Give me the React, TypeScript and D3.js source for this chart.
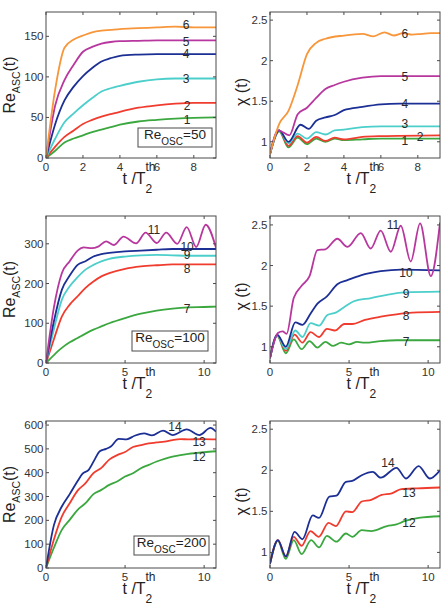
import React from 'react';
import * as d3 from 'd3';

type Pt = [number, number];

const FONT = 'Liberation Sans, Arial, Helvetica, sans-serif';
const GREEN = '#3aa83f';
const RED = '#f03c2e';
const CYAN = '#4ccfcb';
const NAVY = '#1c2f94';
const MAGENTA = '#b8379f';
const ORANGE = '#f7963a';

// ---------- Re_OSC = 50 ----------
const t50 = [0, 0.5, 1, 1.5, 2, 2.5, 3, 3.5, 4, 5, 6, 7, 8, 9.2];
const reAsc50_1 = [0, 9, 19, 24, 28, 32, 35, 38, 41, 45, 47, 48.5, 49.5, 50];
const reAsc50_2 = [0, 14, 26, 34, 42, 47, 51, 54, 57, 62, 65, 67, 68, 68];
const reAsc50_3 = [0, 24, 44, 55, 65, 74, 82, 86, 89, 94, 97, 98, 98, 98];
const reAsc50_4 = [0, 42, 71, 88, 101, 111, 119, 123, 126, 127.5, 128, 128, 128, 128];
const reAsc50_5 = [0, 65, 96, 115, 131, 137, 141, 143, 144, 144.5, 145, 145, 145, 145];
const reAsc50_6 = [0, 85, 136, 146, 151, 155, 157, 158, 159, 160, 161, 162, 161, 161];

const chi50_1: Pt[] = [[0, 0.85], [0.5, 1.13], [1, 0.93], [1.5, 1.05], [2, 0.97], [2.5, 1.04], [3, 1.0], [3.5, 1.04], [4, 1.02], [5, 1.03], [6, 1.04], [9.2, 1.04]];
const chi50_2: Pt[] = [[0, 0.85], [0.5, 1.14], [1, 0.95], [1.5, 1.07], [2, 0.99], [2.5, 1.06], [3, 1.01], [3.5, 1.05], [4, 1.03], [5, 1.06], [6, 1.07], [9.2, 1.08]];
const chi50_3: Pt[] = [[0, 0.85], [0.5, 1.14], [1, 0.98], [1.5, 1.1], [2, 1.04], [2.5, 1.12], [3, 1.09], [3.5, 1.14], [4, 1.15], [5, 1.18], [6, 1.19], [9.2, 1.19]];
const chi50_4: Pt[] = [[0, 0.85], [0.5, 1.14], [1, 1.0], [1.65, 1.21], [2.1, 1.16], [2.5, 1.26], [3, 1.3], [3.5, 1.33], [4, 1.39], [5, 1.43], [6, 1.46], [7, 1.47], [9.2, 1.47]];
const chi50_5: Pt[] = [[0, 0.85], [0.45, 1.14], [1.05, 1.08], [1.5, 1.34], [2, 1.42], [2.5, 1.54], [3, 1.65], [3.5, 1.7], [4, 1.74], [5, 1.79], [6, 1.81], [7, 1.81], [9.2, 1.81]];
const chi50_6: Pt[] = [[0, 0.85], [0.5, 1.22], [1, 1.38], [1.5, 1.7], [2, 2.08], [2.5, 2.22], [3, 2.27], [4, 2.31], [5, 2.33], [5.6, 2.3], [6.2, 2.35], [6.7, 2.31], [7.2, 2.34], [7.7, 2.32], [8.2, 2.33], [8.7, 2.34], [9.2, 2.34]];

// ---------- Re_OSC = 100 ----------
const t100 = [0, 0.5, 1, 1.5, 2, 2.5, 3, 3.5, 4, 5, 6, 7, 8, 9, 10, 10.75];
const reAsc100_7 = [0, 20, 38, 52, 63, 74, 84, 92, 100, 113, 124, 132, 137, 140, 141, 142];
const reAsc100_8 = [0, 60, 117, 147, 168, 189, 205, 218, 226, 237, 243, 246, 248, 248, 248, 248];
const reAsc100_9 = [0, 85, 159, 193, 216, 235, 247, 256, 262, 268, 271, 272, 271, 270, 270, 270];
const reAsc100_10 = [0, 105, 184, 220, 247, 256, 268, 274, 277, 281, 283, 285, 287, 287, 287, 287];
const reAsc100_11: Pt[] = [[0, 0], [0.5, 140], [1, 226], [1.5, 256], [2, 283], [2.4, 291], [2.9, 289], [3.3, 293], [3.8, 306], [4.3, 297], [4.9, 318], [5.7, 301], [6.3, 328], [7.0, 302], [7.6, 328], [8.3, 300], [8.9, 342], [9.5, 292], [10.1, 348], [10.75, 290]];

const chi100_7: Pt[] = [[0, 0.86], [0.46, 1.13], [1, 0.92], [1.5, 1.09], [2, 0.97], [2.5, 1.07], [3, 0.99], [3.5, 1.06], [4, 1.01], [4.5, 1.05], [5, 1.03], [5.5, 1.06], [6, 1.05], [7, 1.07], [8, 1.08], [10.75, 1.08]];
const chi100_8: Pt[] = [[0, 0.86], [0.46, 1.14], [1, 0.95], [1.55, 1.15], [2.05, 1.05], [2.57, 1.18], [3.1, 1.12], [3.6, 1.22], [4.1, 1.2], [4.7, 1.28], [5.2, 1.28], [6, 1.33], [7, 1.37], [8, 1.4], [9, 1.42], [10.75, 1.43]];
const chi100_9: Pt[] = [[0, 0.86], [0.46, 1.14], [1, 0.97], [1.6, 1.2], [2.05, 1.12], [2.57, 1.29], [3.1, 1.26], [3.63, 1.39], [4.16, 1.42], [4.7, 1.49], [5.3, 1.56], [6.4, 1.6], [7.4, 1.64], [8.5, 1.67], [10.75, 1.68]];
const chi100_10: Pt[] = [[0, 0.86], [0.46, 1.15], [1, 1.0], [1.6, 1.3], [2.05, 1.27], [2.57, 1.41], [3, 1.53], [3.6, 1.62], [4.26, 1.77], [4.9, 1.82], [5.74, 1.88], [7, 1.93], [8.27, 1.95], [10.75, 1.94]];
const chi100_11: Pt[] = [[0, 0.86], [0.5, 1.17], [0.8, 1.19], [1.05, 1.16], [1.5, 1.6], [2, 1.75], [2.5, 1.87], [3, 2.19], [3.5, 2.2], [4.26, 2.33], [4.9, 2.23], [5.74, 2.4], [6.37, 2.21], [7.0, 2.43], [7.64, 2.17], [8.27, 2.49], [8.9, 2.05], [9.49, 2.52], [10.17, 1.87], [10.75, 2.53]];

// ---------- Re_OSC = 200 ----------
const reAsc200_12: Pt[] = [[0, 0], [0.5, 85], [1, 160], [1.5, 202], [2, 244], [2.5, 272], [3, 310], [3.5, 328], [4, 349], [4.5, 363], [5, 384], [5.5, 398], [6, 419], [6.5, 433], [7, 447], [7.5, 458], [8, 467], [8.5, 474], [9, 479], [10, 486], [10.75, 490]];
const reAsc200_13: Pt[] = [[0, 0], [0.5, 120], [1, 216], [1.5, 272], [2, 325], [2.5, 356], [3, 398], [3.5, 420], [4, 455], [4.5, 474], [5, 487], [5.5, 508], [6, 516], [6.5, 523], [7, 527], [7.5, 530], [8, 537], [8.5, 541], [9, 540], [10, 541], [10.75, 540]];
const reAsc200_14: Pt[] = [[0, 0], [0.5, 180], [1, 258], [1.5, 310], [2, 365], [2.3, 395], [2.7, 412], [3.1, 458], [3.4, 490], [3.8, 500], [4.1, 510], [4.6, 542], [5.1, 540], [5.6, 555], [6.2, 565], [6.7, 557], [7.4, 577], [8.0, 558], [8.9, 582], [9.7, 558], [10.4, 588], [10.75, 572]];

const chi200_12: Pt[] = [[0, 0.86], [0.5, 1.14], [1, 0.92], [1.5, 1.15], [2, 0.98], [2.6, 1.15], [3.1, 1.06], [3.6, 1.2], [4.2, 1.13], [4.8, 1.23], [5.2, 1.19], [5.8, 1.27], [6.4, 1.26], [7.4, 1.32], [8, 1.34], [8.5, 1.38], [9.4, 1.42], [10.75, 1.44]];
const chi200_13: Pt[] = [[0, 0.86], [0.5, 1.15], [1, 0.95], [1.5, 1.19], [2, 1.08], [2.56, 1.26], [3.08, 1.19], [3.7, 1.36], [4.17, 1.32], [4.8, 1.5], [5.2, 1.49], [5.8, 1.62], [6.4, 1.64], [7.06, 1.7], [7.7, 1.72], [8.3, 1.77], [9.3, 1.78], [10.75, 1.79]];
const chi200_14: Pt[] = [[0, 0.86], [0.5, 1.15], [1, 0.95], [1.55, 1.25], [2.05, 1.16], [2.7, 1.45], [3.1, 1.42], [3.75, 1.68], [4.2, 1.69], [4.8, 1.86], [5.2, 1.87], [5.8, 1.94], [6.5, 1.98], [7.0, 1.91], [8.0, 2.03], [8.6, 1.9], [9.4, 2.05], [10.1, 1.9], [10.75, 2.0]];

const zip = (t: number[], v: number[]): Pt[] => t.map((d, i) => [d, v[i]]);

interface Series { name: string; color: string; pts: Pt[]; label: Pt }
interface PanelProps {
  id: string; left: number; top: number; right: number; bottom: number;
  xMax: number; yDomain: [number, number]; xTicks: number[]; yTicks: number[];
  kind: 're' | 'chi'; series: Series[];
  legend?: { text: string; box: [number, number, number, number] };
}

const Panel = ({ id, left, top, right, bottom, xMax, yDomain, xTicks, yTicks, kind, series, legend }: PanelProps) => {
  const x = d3.scaleLinear().domain([0, xMax]).range([left, right]);
  const y = d3.scaleLinear().domain(yDomain).range([bottom, top]);
  const line = d3.line<Pt>().x((d) => x(d[0])).y((d) => y(d[1])).curve(d3.curveMonotoneX);
  const cy = (top + bottom) / 2;
  const tk = 3;

  return (
    <g fontFamily={FONT}>
      <clipPath id={`clip-${id}`}>
        <rect x={left} y={top} width={right - left} height={bottom - top}/>
      </clipPath>
      <g clipPath={`url(#clip-${id})`}>
        {series.map((s) => (
          <path key={s.name} d={line(s.pts) || ''} fill="none" stroke={s.color} strokeWidth={1.8}
            strokeLinejoin="round"/>
        ))}
      </g>
      {series.map((s) => (
        <text key={`l${s.name}`} x={x(s.label[0])} y={y(s.label[1]) + 4.5} textAnchor="middle"
          fontSize={12} fill="#2a2a2a">{s.name}</text>
      ))}
      <rect x={left} y={top} width={right - left} height={bottom - top} fill="none" stroke="#4a4a4a" strokeWidth={1}/>
      {xTicks.map((t) => (
        <g key={`x${t}`}>
          <line x1={x(t)} x2={x(t)} y1={bottom} y2={bottom - tk} stroke="#4a4a4a"/>
          <line x1={x(t)} x2={x(t)} y1={top} y2={top + tk} stroke="#4a4a4a"/>
          <text x={x(t)} y={bottom + 13} textAnchor="middle" fontSize={11.5} fill="#333">{t}</text>
        </g>
      ))}
      {yTicks.map((v) => (
        <g key={`y${v}`}>
          <line x1={left} x2={left + tk} y1={y(v)} y2={y(v)} stroke="#4a4a4a"/>
          <line x1={right} x2={right - tk} y1={y(v)} y2={y(v)} stroke="#4a4a4a"/>
          <text x={left - 2.5} y={y(v) + 4} textAnchor="end" fontSize={11.5} fill="#333">{v}</text>
        </g>
      ))}
      {kind === 're' ? (
        <text transform={`translate(${left - 31},${cy}) rotate(-90)`} textAnchor="middle" fontSize={16} fill="#222">
          Re<tspan fontSize={10.5} dy={5}>ASC</tspan><tspan fontSize={16} dy={-5}>(t)</tspan>
        </text>
      ) : (
        <text transform={`translate(${left - 23},${cy + 7}) rotate(-90)`} textAnchor="middle" fontSize={16} fill="#222">
          χ (t)
        </text>
      )}
      <text x={left + 76.5} y={bottom + 26} fontSize={16} fill="#222">t /T</text>
      <text x={left + 99.5} y={bottom + 35} fontSize={12} fill="#222">2</text>
      <text x={left + 99.5} y={bottom + 13} fontSize={12} fill="#222">th</text>
      {legend && (
        <g>
          <rect x={legend.box[0]} y={legend.box[1]} width={legend.box[2]} height={legend.box[3]}
            fill="#fff" stroke="#4a4a4a"/>
          <text x={legend.box[0] + legend.box[2] / 2} y={legend.box[1] + 11} textAnchor="middle"
            fontSize={13.5} fill="#222">
            Re<tspan fontSize={10} dy={6}>OSC</tspan><tspan fontSize={13.5} dy={-6}>={legend.text}</tspan>
          </text>
        </g>
      )}
    </g>
  );
};

const App = () => {
  const rowTops = [12, 216, 421];
  const rowBottoms = [158, 363, 568];
  const L = [46, 216];
  const R = [270, 440];
  return (
    <svg width={442} height={605} style={{ position: 'absolute', left: 0, top: 0, background: '#fff' }}>
      <Panel id="p1" left={L[0]} right={L[1]} top={rowTops[0]} bottom={rowBottoms[0]} xMax={9.2}
        yDomain={[0, 180]} xTicks={[0, 2, 4, 6, 8]} yTicks={[0, 50, 100, 150]} kind="re"
        legend={{ text: '50', box: [138, 128, 74, 19] }}
        series={[
          { name: '1', color: GREEN, pts: zip(t50, reAsc50_1), label: [7.63, 47] },
          { name: '2', color: RED, pts: zip(t50, reAsc50_2), label: [7.63, 65] },
          { name: '3', color: CYAN, pts: zip(t50, reAsc50_3), label: [7.58, 98.6] },
          { name: '4', color: NAVY, pts: zip(t50, reAsc50_4), label: [7.58, 129] },
          { name: '5', color: MAGENTA, pts: zip(t50, reAsc50_5), label: [7.58, 144] },
          { name: '6', color: ORANGE, pts: zip(t50, reAsc50_6), label: [7.58, 164] },
        ]}/>
      <Panel id="p2" left={R[0]} right={R[1]} top={rowTops[0]} bottom={rowBottoms[0]} xMax={9.2}
        yDomain={[0.8, 2.6]} xTicks={[0, 2, 4, 6, 8]} yTicks={[1, 1.5, 2, 2.5]} kind="chi"
        series={[
          { name: '1', color: GREEN, pts: chi50_1, label: [7.3, 1.02] },
          { name: '2', color: RED, pts: chi50_2, label: [8.12, 1.06] },
          { name: '3', color: CYAN, pts: chi50_3, label: [7.3, 1.23] },
          { name: '4', color: NAVY, pts: chi50_4, label: [7.3, 1.466] },
          { name: '5', color: MAGENTA, pts: chi50_5, label: [7.3, 1.81] },
          { name: '6', color: ORANGE, pts: chi50_6, label: [7.3, 2.34] },
        ]}/>
      <Panel id="p3" left={L[0]} right={L[1]} top={rowTops[1]} bottom={rowBottoms[1]} xMax={10.75}
        yDomain={[0, 370]} xTicks={[0, 5, 10]} yTicks={[0, 100, 200, 300]} kind="re"
        legend={{ text: '100', box: [132, 331, 76, 20] }}
        series={[
          { name: '7', color: GREEN, pts: zip(t100, reAsc100_7), label: [8.92, 136] },
          { name: '8', color: RED, pts: zip(t100, reAsc100_8), label: [8.92, 239] },
          { name: '9', color: CYAN, pts: zip(t100, reAsc100_9), label: [8.92, 272] },
          { name: '10', color: NAVY, pts: zip(t100, reAsc100_10), label: [8.92, 292] },
          { name: '11', color: MAGENTA, pts: reAsc100_11, label: [6.83, 335] },
        ]}/>
      <Panel id="p4" left={R[0]} right={R[1]} top={rowTops[1]} bottom={rowBottoms[1]} xMax={10.75}
        yDomain={[0.8, 2.61]} xTicks={[0, 5, 10]} yTicks={[1, 1.5, 2, 2.5]} kind="chi"
        series={[
          { name: '7', color: GREEN, pts: chi100_7, label: [8.6, 1.07] },
          { name: '8', color: RED, pts: chi100_8, label: [8.6, 1.39] },
          { name: '9', color: CYAN, pts: chi100_9, label: [8.6, 1.65] },
          { name: '10', color: NAVY, pts: chi100_10, label: [8.6, 1.92] },
          { name: '11', color: MAGENTA, pts: chi100_11, label: [7.78, 2.51] },
        ]}/>
      <Panel id="p5" left={L[0]} right={L[1]} top={rowTops[2]} bottom={rowBottoms[2]} xMax={10.75}
        yDomain={[0, 617]} xTicks={[0, 5, 10]} yTicks={[0, 100, 200, 300, 400, 500, 600]} kind="re"
        legend={{ text: '200', box: [134, 536, 75, 19] }}
        series={[
          { name: '12', color: GREEN, pts: reAsc200_12, label: [9.68, 466] },
          { name: '13', color: RED, pts: reAsc200_13, label: [9.68, 529] },
          { name: '14', color: NAVY, pts: reAsc200_14, label: [8.16, 596] },
        ]}/>
      <Panel id="p6" left={R[0]} right={R[1]} top={rowTops[2]} bottom={rowBottoms[2]} xMax={10.75}
        yDomain={[0.81, 2.6]} xTicks={[0, 5, 10]} yTicks={[1, 1.5, 2, 2.5]} kind="chi"
        series={[
          { name: '12', color: GREEN, pts: chi200_12, label: [8.79, 1.36] },
          { name: '13', color: RED, pts: chi200_13, label: [8.79, 1.735] },
          { name: '14', color: NAVY, pts: chi200_14, label: [7.46, 2.09] },
        ]}/>
    </svg>
  );
};

export default App;
